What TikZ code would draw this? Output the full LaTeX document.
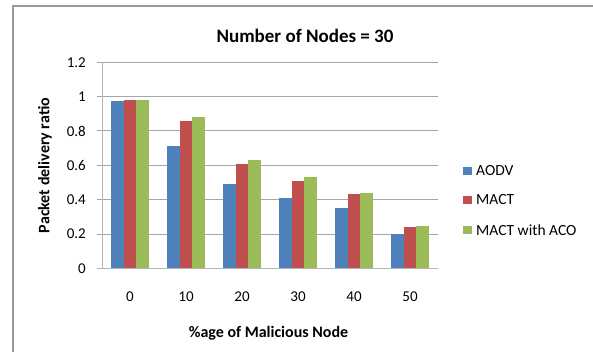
\documentclass[tikz,border=0pt]{standalone}
\usepackage{fontspec}
\setmainfont{Carlito}
\definecolor{sblue}{HTML}{4F81BD}
\definecolor{sred}{HTML}{C0504D}
\definecolor{sgreen}{HTML}{9BBB59}
\definecolor{gridc}{HTML}{A6A6A6}
\definecolor{framec}{HTML}{9A9A9A}
\tikzset{
  gridline/.style={draw=gridc, line width=0.9pt},
  axisline/.style={draw=gridc!80!black!60, line width=0.9pt},
  bar/.style={line width=0pt},
  ticklbl/.style={font=\fontsize{15}{15}\selectfont, inner sep=0pt},
  axtitle/.style={font=\bfseries\fontsize{16}{16}\selectfont, inner sep=0pt},
  legbox/.style={minimum size=8.3pt, inner sep=0pt},
  legtext/.style={font=\fontsize{15.5}{15.5}\selectfont, inner sep=0pt, anchor=west}
}
\begin{document}
\begin{tikzpicture}[x=1pt, y=-1pt]
  \useasboundingbox (0,0) rectangle (593,352);
  % outer frame (top and left edges only)
  \draw[framec, line width=1.3pt] (13,352) -- (13,6) -- (593,6);

  % title
  \node[font=\bfseries\fontsize{19}{19}\selectfont, inner sep=0pt] (title) at (305,36) {Number of Nodes = 30};

  % plot geometry: y(v) = 268.3 - 171.7 v
  \def\xz{102}
  \def\xe{437.5}
  % gridlines with ticks and y labels
  \foreach \v/\lab in {0.2/0.2,0.4/0.4,0.6/0.6,0.8/0.8,1.0/1,1.2/1.2}{
    \draw[gridline] (\xz-5,268.3-171.7*\v) -- (\xe,268.3-171.7*\v);
  }
  \foreach \v/\lab in {0/0,0.2/0.2,0.4/0.4,0.6/0.6,0.8/0.8,1.0/1,1.2/1.2}{
    \node[ticklbl, anchor=east] (yl\lab) at (86,268.3-171.7*\v) {\lab};
  }

  % bars: category width 56, bar width 12.44, gap 9.33 on each side
  \foreach \k/\a/\b/\c in {0/0.975/0.98/0.98, 1/0.71/0.86/0.88, 2/0.49/0.605/0.63,
                           3/0.41/0.51/0.53, 4/0.352/0.43/0.438, 5/0.197/0.24/0.245}{
    \pgfmathsetmacro{\xl}{\xz+56*\k+9.33}
    \fill[sblue]  (\xl,268.3) rectangle (\xl+12.44,268.3-171.7*\a);
    \fill[sred]   (\xl+12.44,268.3) rectangle (\xl+24.88,268.3-171.7*\b);
    \fill[sgreen] (\xl+24.88,268.3) rectangle (\xl+37.33,268.3-171.7*\c);
  }

  % axes
  \draw[axisline] (\xz-5,268.3) -- (\xe,268.3);
  \draw[axisline] (\xz,268.3) -- (\xz,62.3);

  % category labels
  \foreach \k/\lab in {0/0,1/10,2/20,3/30,4/40,5/50}{
    \node[ticklbl] (xl\lab) at (\xz+28+56*\k,297) {\lab};
  }

  % axis titles
  \node[axtitle] (xtitle) at (268.5,333.5) {\%age of Malicious Node};
  \node[axtitle, rotate=90] (ytitle) at (45,165.5) {Packet delivery ratio};

  % legend
  \node[legbox, fill=sblue]  (lb1) at (467.5,171) {};
  \node[legbox, fill=sred]   (lb2) at (467.5,200) {};
  \node[legbox, fill=sgreen] (lb3) at (467.5,230) {};
  \node[legtext] (lt1) at (476,171) {AODV};
  \node[legtext] (lt2) at (476,200) {MACT};
  \node[legtext] (lt3) at (476,230) {MACT with ACO};
\end{tikzpicture}
\end{document}
